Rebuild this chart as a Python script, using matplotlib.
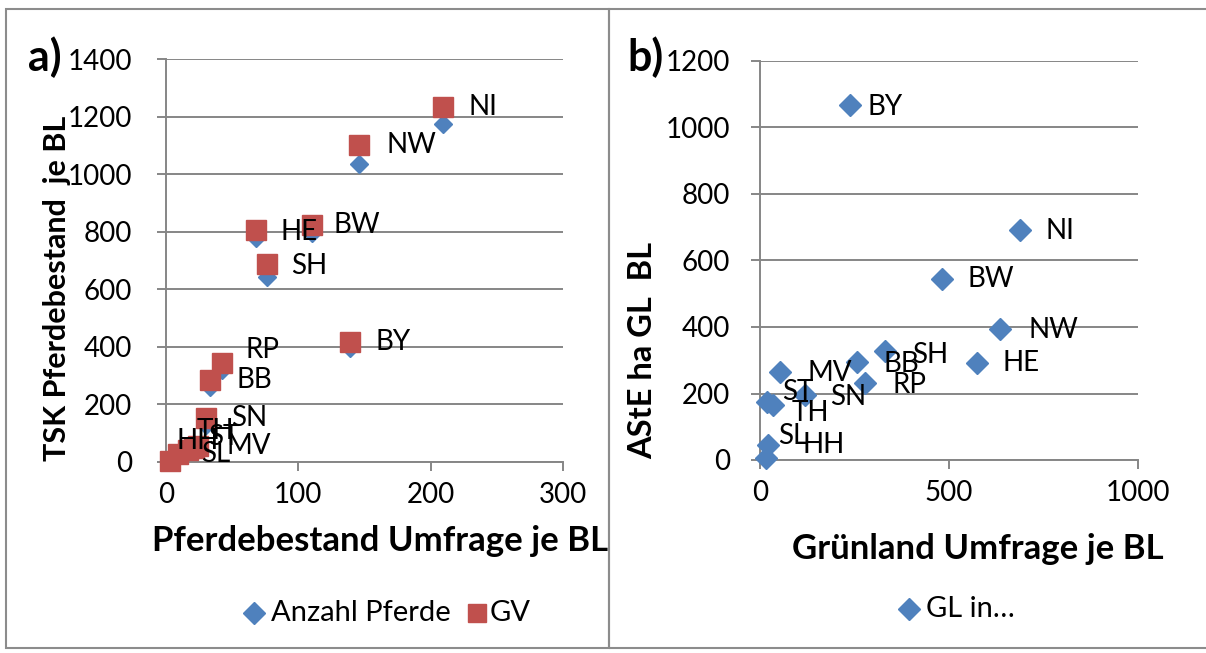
import matplotlib
matplotlib.use("Agg")
import matplotlib.pyplot as plt
from matplotlib.patches import Rectangle
from matplotlib.lines import Line2D

plt.rcParams["font.family"] = ["Lato", "DejaVu Sans"]

# Panel a: horses per federal state (survey vs. TSK)
a_states = ["NI", "NW", "BW", "HE", "SH", "BY", "RP", "BB", "SN", "TH", "ST", "HH", "SL", "MV"]
a_survey = [209, 146, 110, 68, 76, 139, 42, 33, 30, 24, 17, 9, 3, 21]
a_pferde = [1174, 1035, 795, 778, 643, 396, 320, 260, 128, 50, 37, 25, 3, 44]
a_gv = [1233, 1101, 823, 806, 688, 417, 344, 285, 153, 56, 42, 28, 3, 49]
a_xticks = [0, 100, 200, 300]
a_yticks = [0, 200, 400, 600, 800, 1000, 1200, 1400]

# Panel b: grassland per federal state
b_states = ["BY", "NI", "BW", "NW", "HE", "SH", "BB", "RP", "MV", "SN", "ST", "TH", "SL", "HH"]
b_gruenland = [238, 688, 481, 635, 574, 331, 257, 278, 53, 119, 19, 34, 21, 16]
b_aste = [1068, 692, 544, 394, 292, 328, 295, 232, 265, 195, 174, 165, 45, 6]
b_xticks = [0, 500, 1000]
b_yticks = [0, 200, 400, 600, 800, 1000, 1200]

# label offsets (pixels) as in the original chart
a_offsets = {"NI": (26, 0), "NW": (27, 0), "BW": (22, 0), "HE": (25, -2),
             "SH": (25, -2), "BY": (26, 0), "RP": (24, 13), "BB": (27, 0),
             "SN": (25, 0), "TH": (-1, 15), "ST": (20, 13), "HH": (-1, 13),
             "SL": (31, 7), "MV": (33, 2)}
b_offsets = {"BY": (18, -2), "NI": (25, -1), "BW": (26, 0), "NW": (28, -1),
             "HE": (26, 0), "SH": (27, -4), "BB": (26, -2), "RP": (27, -2),
             "MV": (27, -1), "SN": (25, -2), "ST": (15, 10), "TH": (19, -8),
             "SL": (10, 9), "HH": (36, 13)}

BLUE = "#4F81BD"
RED = "#C0504D"
GRID = "#868686"
FS = 20

W, H = 1206, 653
fig = plt.figure(figsize=(W / 100, H / 100), dpi=100)


def px_axes(x0, y0, x1, y1):
    return fig.add_axes([x0 / W, 1 - y1 / H, (x1 - x0) / W, (y1 - y0) / H])


def excel_style(ax, xticks, yticks, ypad):
    ax.set_xlim(xticks[0], xticks[-1])
    ax.set_ylim(yticks[0], yticks[-1])
    ax.set_xticks(xticks)
    ax.set_yticks(yticks)
    for s in ["top", "right"]:
        ax.spines[s].set_visible(False)
    for s in ["left", "bottom"]:
        ax.spines[s].set_color(GRID)
        ax.spines[s].set_linewidth(1.4)
    ax.grid(axis="y", color=GRID, lw=1.4)
    ax.set_axisbelow(True)
    ax.tick_params(length=6.5, width=1.4, color=GRID, labelsize=FS)
    ax.tick_params(axis="y", pad=ypad)
    ax.tick_params(axis="x", pad=8)


def px_text(x, y, s, **kw):
    fig.text(x / W, 1 - y / H, s, **kw)


def px_marker(x, y, **kw):
    fig.add_artist(Line2D([x / W], [1 - y / H], transform=fig.transFigure,
                          ls="none", **kw))


# frames around both panels
for x0, w in [(6, 603), (609, 600)]:
    fig.patches.append(Rectangle((x0 / W, 1 - 648 / H), w / W, 639 / H,
                                 transform=fig.transFigure, fill=False,
                                 ec="#8c8c8c", lw=1.5))

# panel a
ax1 = px_axes(166, 59, 563, 462)
excel_style(ax1, a_xticks, a_yticks, ypad=18)
ax1.plot(a_survey, a_pferde, ls="none", marker="D", ms=9, color=BLUE,
         clip_on=False, zorder=3)
ax1.plot(a_survey, a_gv, ls="none", marker="s", ms=14, color=RED,
         clip_on=False, zorder=4)
for st, x, y in zip(a_states, a_survey, a_gv):
    dx, dy = a_offsets[st]
    ax1.annotate(st, (x, y), xytext=(dx, dy), textcoords="offset pixels",
                 ha="left", va="center", fontsize=FS, zorder=5)

px_text(380, 541, "Pferdebestand Umfrage je BL", ha="center", va="center",
        fontsize=25, fontweight="bold")
px_text(57, 288, "TSK Pferdebestand  je BL", ha="center", va="center",
        rotation=90, fontsize=22, fontweight="bold")
px_text(45, 57, "a)", ha="center", va="center", fontsize=31, fontweight="bold")

# legend a
px_marker(254, 613, marker="D", ms=11, color=BLUE)
px_text(271, 613, "Anzahl Pferde", ha="left", va="center", fontsize=21)
px_marker(477, 613, marker="s", ms=12.5, color=RED)
px_text(490, 613, "GV", ha="left", va="center", fontsize=21)

# panel b
ax2 = px_axes(760, 61, 1138, 460)
excel_style(ax2, b_xticks, b_yticks, ypad=15)
ax2.plot(b_gruenland, b_aste, ls="none", marker="D", ms=11, color=BLUE,
         clip_on=False, zorder=3)
for st, x, y in zip(b_states, b_gruenland, b_aste):
    dx, dy = b_offsets[st]
    ax2.annotate(st, (x, y), xytext=(dx, dy), textcoords="offset pixels",
                 ha="left", va="center", fontsize=FS, zorder=5)

px_text(978, 549, "Grünland Umfrage je BL", ha="center", va="center",
        fontsize=25, fontweight="bold")
px_text(643, 350, "AStE ha GL  BL", ha="center", va="center",
        rotation=90, fontsize=23.5, fontweight="bold")
px_text(646, 57, "b)", ha="center", va="center", fontsize=31, fontweight="bold")

px_marker(909, 609, marker="D", ms=11, color=BLUE)
px_text(926, 609, "GL in\u2026", ha="left", va="center", fontsize=21)

fig.savefig("out.png", dpi=100)
